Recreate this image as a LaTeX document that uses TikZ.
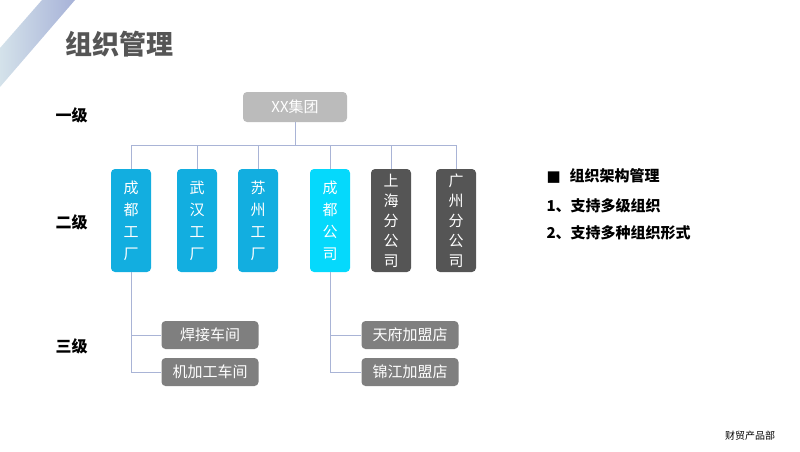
\documentclass[tikz,border=0pt]{standalone}
\usepackage{fontspec}
\setmainfont{Noto Sans CJK SC}
\usetikzlibrary{positioning}
\definecolor{bluebox}{HTML}{12AEE0}
\definecolor{cyanbox}{HTML}{05D9FC}
\definecolor{darkbox}{HTML}{555555}
\definecolor{greybox}{HTML}{7F7F7F}
\definecolor{topbox}{HTML}{BBBBBB}
\definecolor{wire}{HTML}{A9B4D6}
\definecolor{bandA}{HTML}{D4E2EA}
\definecolor{bandB}{HTML}{A7B2D8}
\tikzset{
  unit/.style={rounded corners=4pt, text=white, minimum width=40pt, minimum height=103pt, inner sep=0pt, align=center, font=\fontsize{15}{22}\selectfont},
  tall/.style={font=\fontsize{15}{20}\selectfont},
  shop/.style={rounded corners=4pt, fill=greybox, text=white, minimum width=97pt, minimum height=28pt, inner sep=0pt, font=\fontsize{15}{18}\selectfont},
  level/.style={font=\fontsize{16}{18}\selectfont\bfseries, anchor=west},
  link/.style={wire, line width=0.8pt},
  item/.style={font=\fontsize{15}{17}\selectfont\bfseries, anchor=west}
}
\begin{document}
\begin{tikzpicture}[x=1pt, y=-1pt]
\useasboundingbox (0,0) rectangle (800,452);
% corner band
\shade[left color=bandA, right color=bandB] (42,0) -- (75,0) -- (0,87) -- (0,48) -- cycle;
% title
\node[anchor=west, font=\fontsize{27}{30}\selectfont\bfseries, text=darkbox] (title) at (62,44) {组织管理};

% levels
\node[level] (l1) at (52,115) {一级};
\node[level] (l2) at (52,222) {二级};
\node[level] (l3) at (52,346) {三级};

% top
\node[rounded corners=4pt, fill=topbox, text=white, minimum width=104pt, minimum height=30pt, inner sep=0pt, font=\fontsize{15}{18}\selectfont] (group) at (295,107) {XX集团};

% second level
\node[unit, fill=bluebox] (cdf) at (131,220.5) {成\\都\\工\\厂};
\node[unit, fill=bluebox] (whf) at (197,220.5) {武\\汉\\工\\厂};
\node[unit, fill=bluebox] (szf) at (258,220.5) {苏\\州\\工\\厂};
\node[unit, fill=cyanbox] (cdc) at (330,220.5) {成\\都\\公\\司};
\node[unit, tall, fill=darkbox] (shc) at (391,220.5) {上\\海\\分\\公\\司};
\node[unit, tall, fill=darkbox] (gzc) at (456,220.5) {广\\州\\分\\公\\司};

% third level
\node[shop] (weld) at (210,335) {焊接车间};
\node[shop] (mach) at (210,372) {机加工车间};
\node[shop] (tf) at (410,335) {天府加盟店};
\node[shop] (jj) at (410,372) {锦江加盟店};

% wires
\coordinate (bus) at (295,145);
\draw[link] (group) -- (bus);
\draw[link] (cdf.north |- bus) -- (gzc.north |- bus);
\foreach \n in {cdf,whf,szf,cdc,shc,gzc}
  \draw[link] (\n.north |- bus) -- (\n.north);
\draw[link] (cdf.south) |- (weld.west);
\draw[link] (cdf.south) |- (mach.west);
\draw[link] (cdc.south) |- (tf.west);
\draw[link] (cdc.south) |- (jj.west);

% right side
\node[item] (i0) at (543,176) {\fontspec{DejaVu Sans}■\hspace{0.6em}\fontspec{Noto Sans CJK SC}组织架构管理};
\node[item] (i1) at (543,206) {1、支持多级组织};
\node[item] (i2) at (543,233) {2、支持多种组织形式};

\node[font=\fontsize{10}{12}\selectfont] (dept) at (750,436) {财贸产品部};
\end{tikzpicture}
\end{document}
